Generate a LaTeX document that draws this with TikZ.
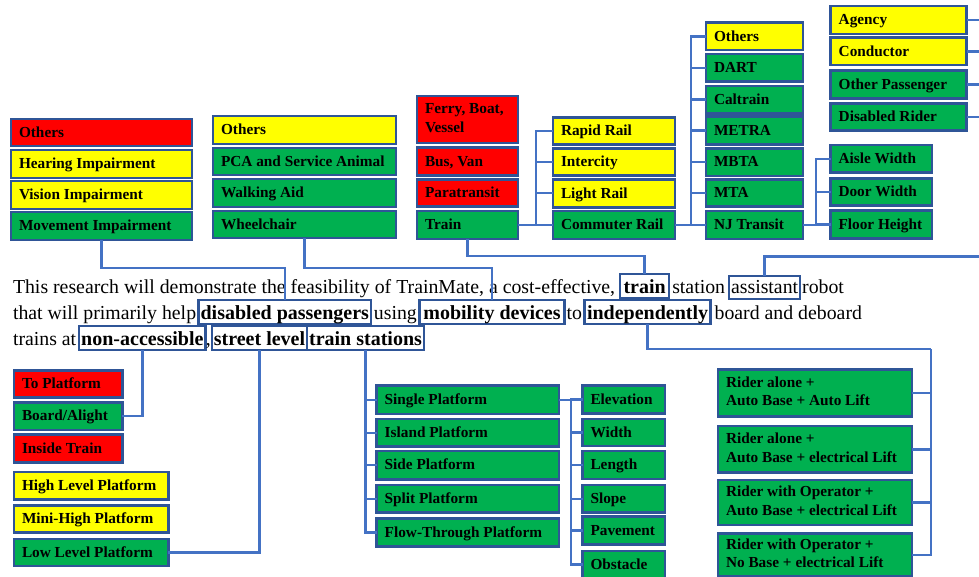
\documentclass[tikz,border=0pt]{standalone}
\usepackage{fontspec}
\setmainfont{Liberation Serif}
\definecolor{cRed}{HTML}{FF0000}
\definecolor{cYel}{HTML}{FFFF00}
\definecolor{cGrn}{HTML}{00B050}
\definecolor{cBrd}{HTML}{2F5597}
\definecolor{cLn}{HTML}{4472C4}
\tikzset{
  box/.style={draw=cBrd, line width=2.6pt, anchor=north west, inner xsep=8pt, inner ysep=2pt, outer sep=0pt, font=\fontsize{15.3}{18.5}\selectfont\bfseries},
  boxone/.style={box, text height=12.5pt, text depth=3pt},
  conn/.style={draw=cLn, line width=2.4pt},
  ptxt/.style={inner sep=0pt, outer sep=0pt, anchor=base west, font=\fontsize{19.8}{24}\selectfont},
  wbox/.style={ptxt, draw=cBrd, line width=2.4pt, inner xsep=2pt, inner ysep=0pt, text height=19.5pt, text depth=4.5pt, font=\fontsize{20}{24}\selectfont\bfseries},
  abox/.style={wbox, line width=2pt, inner xsep=2pt, text height=17.5pt, text depth=5.5pt, font=\fontsize{19.8}{24}\selectfont},
}
\newcommand\bx[7]{\node[boxone, fill=#2, minimum width=#5pt, minimum height=#6pt] (#1) at (#3,#4) {\makebox[\dimexpr#5pt-16pt\relax][l]{#7}};}
\newcommand\bxtwo[8]{\node[box, fill=#2, minimum width=#5pt, minimum height=#6pt] (#1) at (#3,#4) {\makebox[\dimexpr#5pt-16pt\relax][l]{\begin{tabular}{@{}l@{}}#7\\#8\end{tabular}}};}
\begin{document}
\begin{tikzpicture}[x=1pt,y=-1pt]
\useasboundingbox (0,0) rectangle (979,577);
% column A
\bx{othA}{cRed}{11}{119}{181}{27}{Others}
\bx{hear}{cYel}{11}{150}{181}{28}{Hearing Impairment}
\bx{vision}{cYel}{11}{181}{181}{28}{Vision Impairment}
\bx{move}{cGrn}{11}{212}{181}{28}{Movement Impairment}
% column B
\bx{othB}{cYel}{213}{116}{183}{28}{Others}
\bx{pca}{cGrn}{213}{148}{183}{27}{PCA and Service Animal}
\bx{walk}{cGrn}{213}{179}{183}{28}{Walking Aid}
\bx{wheel}{cGrn}{213}{211}{183}{27}{Wheelchair}
% column C
\bxtwo{ferry}{cRed}{417}{96}{101}{47}{Ferry, Boat,}{Vessel}
\bx{bus}{cRed}{417}{147.3}{101}{28}{Bus, Van}
\bx{para}{cRed}{417}{179.3}{101}{27.5}{Paratransit}
\bx{train}{cGrn}{417}{211}{101}{28}{Train}
% column D
\bx{rapid}{cYel}{553}{117.3}{122}{27}{Rapid Rail}
\bx{inter}{cYel}{553}{148.3}{122}{27.5}{Intercity}
\bx{light}{cYel}{553}{179.3}{122}{28}{Light Rail}
\bx{commuter}{cGrn}{553}{211}{122}{28}{Commuter Rail}
% column E
\bx{othE}{cYel}{706}{22.7}{97}{27.5}{Others}
\bx{dart}{cGrn}{706}{54}{97}{27.7}{DART}
\bx{caltrain}{cGrn}{706}{86}{97}{27.3}{Caltrain}
\bx{metra}{cGrn}{706}{116.7}{97}{27.6}{METRA}
\bx{mbta}{cGrn}{706}{148.3}{97}{27.7}{MBTA}
\bx{mta}{cGrn}{706}{179.3}{97}{27.4}{MTA}
\bx{nj}{cGrn}{706}{211}{97}{28}{NJ Transit}
% column F
\bx{agency}{cYel}{830.7}{6}{136}{28}{Agency}
\bx{conductor}{cYel}{830.7}{37.7}{136}{27.3}{Conductor}
\bx{otherpass}{cGrn}{830.7}{70.7}{136}{27.6}{Other Passenger}
\bx{disabled}{cGrn}{830.7}{103.3}{136}{27.4}{Disabled Rider}
% column G
\bx{aisle}{cGrn}{830.5}{145}{101.5}{27.7}{Aisle Width}
\bx{door}{cGrn}{830.5}{178.3}{101.5}{27.4}{Door Width}
\bx{floor}{cGrn}{830.5}{210.7}{101.5}{27.6}{Floor Height}
% bottom left
\bx{toplat}{cRed}{14}{370.7}{108.3}{27}{To Platform}
\bx{board}{cGrn}{14}{402.3}{108.3}{27.7}{Board/Alight}
\bx{inside}{cRed}{14}{434.3}{108.3}{28}{Inside Train}
\bx{high}{cYel}{14}{472}{154.3}{27.3}{High Level Platform}
\bx{mini}{cYel}{14}{505.3}{154.3}{27.4}{Mini-High Platform}
\bx{low}{cGrn}{14}{539}{154.3}{27}{Low Level Platform}
% platforms
\bx{single}{cGrn}{376.7}{385.7}{182.3}{28.3}{Single Platform}
\bx{island}{cGrn}{376.7}{419}{182.3}{27.7}{Island Platform}
\bx{side}{cGrn}{376.7}{451}{182.3}{28.3}{Side Platform}
\bx{split}{cGrn}{376.7}{485}{182.3}{27.7}{Split Platform}
\bx{flow}{cGrn}{376.7}{518.3}{182.3}{28.4}{Flow-Through Platform}
% attributes
\bx{aelev}{cGrn}{582.5}{385.7}{82.5}{27.6}{Elevation}
\bx{awidth}{cGrn}{582.5}{419}{82.5}{27}{Width}
\bx{alength}{cGrn}{582.5}{451}{82.5}{28}{Length}
\bx{aslope}{cGrn}{582.5}{485}{82.5}{27.7}{Slope}
\bx{apave}{cGrn}{582.5}{516.7}{82.5}{27.6}{Pavement}
\bx{aobst}{cGrn}{582.5}{551}{82.5}{27}{Obstacle}
% riders
\bxtwo{r1}{cGrn}{718}{369.3}{194}{47.4}{Rider alone +}{Auto Base + Auto Lift}
\bxtwo{r2}{cGrn}{718}{426}{194}{46.7}{Rider alone +}{Auto Base + electrical Lift}
\bxtwo{r3}{cGrn}{718}{480}{194}{45}{Rider with Operator +}{Auto Base + electrical Lift}
\bxtwo{r4}{cGrn}{718}{533.3}{194}{43.4}{Rider with Operator +}{No Base + electrical Lift}
% paragraph line 1
\node[ptxt] (p1a) at (13,293.5) {This research will demonstrate the feasibility of TrainMate, a cost-effective,};
\node[wbox, inner xsep=3.5pt] (wtrain) at ([xshift=5pt]p1a.base east) {train};
\node[ptxt] (p1b) at ([xshift=3pt]wtrain.base east) {station};
\node[abox] (asst) at ([xshift=4pt]p1b.base east) {assistant};
\node[ptxt] (p1c) at ([xshift=2pt]asst.base east) {robot};
% line 2
\node[ptxt] (p2a) at (13,319.5) {that will primarily help};
\node[wbox] (dp) at ([xshift=2.5pt]p2a.base east) {disabled passengers};
\node[ptxt] (p2b) at ([xshift=3pt]dp.base east) {using};
\node[wbox, inner xsep=4pt] (mob) at ([xshift=2.5pt]p2b.base east) {mobility devices};
\node[ptxt] (p2c) at ([xshift=2pt]mob.base east) {to};
\node[wbox, inner xsep=2.5pt] (indep) at ([xshift=2.5pt]p2c.base east) {independently};
\node[ptxt] (p2d) at ([xshift=4pt]indep.base east) {board and deboard};
% line 3
\node[ptxt] (p3a) at (13,345.5) {trains at};
\node[wbox] (na) at ([xshift=3pt]p3a.base east) {non-accessible};
\node[ptxt] (p3b) at ([xshift=0.5pt]na.base east) {,};
\node[wbox] (sl) at ([xshift=1pt]p3b.base east) {street level};
\node[wbox] (ts) at (sl.base east) {train stations};
% connectors
\draw[conn] (move.south) -- ++(0,28) -| (dp.north);
\draw[conn] (wheel.south) -- ++(0,30) -| (mob.north);
\draw[conn] (train.south) -- ++(0,17) -| (wtrain.north);
\coordinate (aend) at (990,256.7);
\draw[conn] (asst.north) |- (aend);
\coordinate (rj) at (931,349);
\draw[conn] (indep.south) |- (rj);
\foreach \r in {r1,r2,r3,r4} \draw[conn] (rj) |- (\r.east);
\draw[conn] (na.south) |- (board.east);
\draw[conn] (sl.south) |- (low.east);
\foreach \n in {single,island,side,split,flow} \draw[conn] (ts.south) |- (\n.west);
\draw[conn] (single.east) -- ++(12,0) coordinate (pj);
\foreach \n in {aelev,awidth,alength,aslope,apave,aobst} \draw[conn] (pj) |- (\n.west);
\draw[conn] (train.east) -- ++(18,0) coordinate (tj);
\foreach \n in {rapid,inter,light,commuter} \draw[conn] (tj) |- (\n.west);
\draw[conn] (commuter.east) -- ++(16,0) coordinate (cj);
\foreach \n in {othE,dart,caltrain,metra,mbta,mta,nj} \draw[conn] (cj) |- (\n.west);
\draw[conn] (nj.east) -- ++(13,0) coordinate (nj2);
\foreach \n in {aisle,door,floor} \draw[conn] (nj2) |- (\n.west);
\foreach \n in {agency,conductor,otherpass,disabled} \draw[conn] (\n.east) -- ++(20,0);
\end{tikzpicture}
\end{document}
